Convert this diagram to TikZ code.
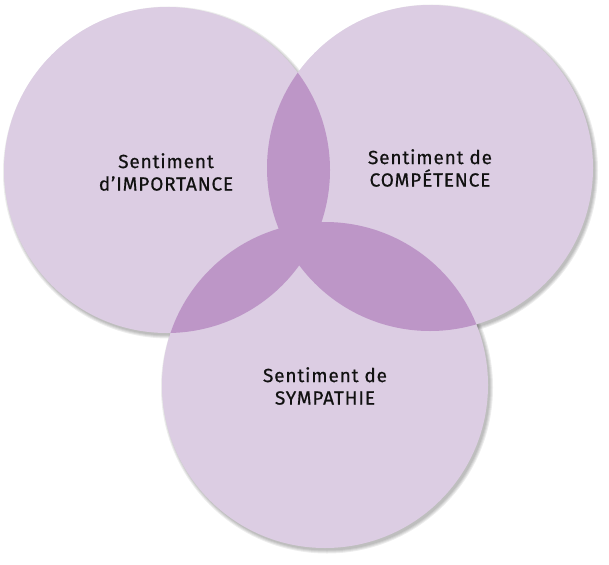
\documentclass[tikz,border=0pt]{standalone}
\usepackage{fontspec}
\setmainfont{Fira Sans}
\newfontfamily\lblfont{Fira Sans}[FakeBold=0.6, LetterSpace=4.5]
\definecolor{lightv}{HTML}{DCCDE3}
\definecolor{darkv}{HTML}{BD96C7}
\definecolor{txt}{HTML}{111111}
\tikzset{
  lbl/.style={align=center, text=txt, font=\lblfont\fontsize{19}{22.5}\selectfont, inner sep=0pt},
  disc/.style={fill=lightv},
  lens/.style={fill=darkv},
  shade/.style={fill=black, opacity=0.07}
}
\begin{document}
\begin{tikzpicture}[x=1pt,y=-1pt]
\useasboundingbox (0,0) rectangle (609,564);
\coordinate (L) at (167,170);
\coordinate (R) at (430,168);
\coordinate (B) at (325,385);
% soft drop shadows
\foreach \c in {L,R,B}{
  \foreach \d in {3,2,1,0}{
    \fill[shade] ([shift={(2,2.5)}]\c) circle[radius=163pt+\d pt];
  }
}
% discs
\foreach \c in {L,R,B}{
  \fill[disc] (\c) circle[radius=163pt];
}
% overlaps
\begin{scope}
  \clip (L) circle[radius=163pt];
  \fill[lens] (R) circle[radius=163pt];
  \fill[lens] (B) circle[radius=163pt];
\end{scope}
\begin{scope}
  \clip (R) circle[radius=163pt];
  \fill[lens] (B) circle[radius=163pt];
\end{scope}
% labels
\node[lbl] (tL) at (166,172) {Sentiment\\d’IMPORTANCE};
\node[lbl] (tR) at (430,168) {Sentiment de\\COMPÉTENCE};
\node[lbl] (tB) at (325,386) {Sentiment de\\SYMPATHIE};
\end{tikzpicture}
\end{document}
